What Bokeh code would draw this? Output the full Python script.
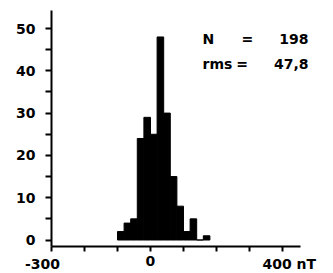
from bokeh.plotting import figure
from bokeh.models import FixedTicker, Label, Range1d, ColumnDataSource
from bokeh.embed import file_html
from bokeh.resources import INLINE

# histogram data (nT bins of 20, counts)
bin_centers = [-90, -70, -50, -30, -10, 10, 30, 50, 70, 90, 110, 130, 150, 170]
counts = [2, 4, 5, 24, 29, 25, 48, 30, 15, 8, 2, 5, 0, 1]
bin_width = 20
x_ticks = [-300, -200, -100, 0, 100, 200, 300, 400]
y_ticks = [0, 10, 20, 30, 40, 50]
y_minor = [5, 15, 25, 35, 45]
n_text = "198"
rms_text = "47,8"

FONT = "DejaVu Sans"
FS = "14px"

X0, X1 = -300, 454        # extent of drawn x axis
Y0, Y1 = -1.54, 54.26     # extent of drawn y axis

p = figure(width=332, height=272,
           x_range=Range1d(-454.5, 551.5), y_range=Range1d(-7.68, 56.62),
           output_backend="svg", toolbar_location=None,
           min_border=0, min_border_left=0, min_border_right=0,
           min_border_top=0, min_border_bottom=0)
p.outline_line_color = None
p.xgrid.grid_line_color = None
p.ygrid.grid_line_color = None
p.background_fill_color = "white"
p.border_fill_color = "white"

src = ColumnDataSource(dict(x=bin_centers, top=counts))
p.vbar(x="x", top="top", bottom=0, width=bin_width, source=src,
       fill_color="black", line_color="black", line_width=1)

# x axis
xa = p.xaxis[0]
xa.fixed_location = Y0
xa.bounds = (X0, X1)
xa.ticker = FixedTicker(ticks=x_ticks)
xa.major_label_overrides = {t: ("0" if t == 0 else "") for t in x_ticks}
xa.axis_line_width = 2
xa.major_tick_line_width = 2
xa.major_tick_out = 5
xa.major_tick_in = 0
xa.minor_tick_line_color = None
xa.major_label_standoff = 4
xa.major_label_text_font = FONT
xa.major_label_text_font_style = "bold"
xa.major_label_text_font_size = FS
xa.major_label_text_color = "black"

# y axis
ya = p.yaxis[0]
ya.fixed_location = X0
ya.bounds = (Y0, Y1)
ya.ticker = FixedTicker(ticks=y_ticks, minor_ticks=y_minor)
ya.axis_line_width = 2
ya.major_tick_line_width = 2
ya.minor_tick_line_width = 2
ya.major_tick_out = 6
ya.major_tick_in = 0
ya.minor_tick_out = 6
ya.minor_tick_in = 0
ya.major_label_standoff = 10
ya.major_label_text_font = FONT
ya.major_label_text_font_style = "bold"
ya.major_label_text_font_size = FS
ya.major_label_text_color = "black"

def lab(text, x, y, align="left", xo=0, yo=0, baseline="middle"):
    p.add_layout(Label(x=x, y=y, text=text, text_align=align, x_offset=xo, y_offset=yo,
                       text_baseline=baseline, text_font=FONT, text_font_style="bold",
                       text_font_size=FS, text_color="black"))

# outer x tick labels
lab("-300", -300, -5.56, align="center", xo=-9)
lab("400 nT", 400, -5.56, align="left", xo=-20)

# statistics text
lab("N", 157.6, 47.6, align="left")
lab("=", 293.9, 47.6, align="center")
lab(n_text, 478.8, 47.6, align="right")
lab("rms", 157.6, 41.7, align="left")
lab("=", 277.3, 41.7, align="center")
lab(rms_text, 478.8, 41.7, align="right")

open("out.html", "w").write(file_html(p, INLINE))
